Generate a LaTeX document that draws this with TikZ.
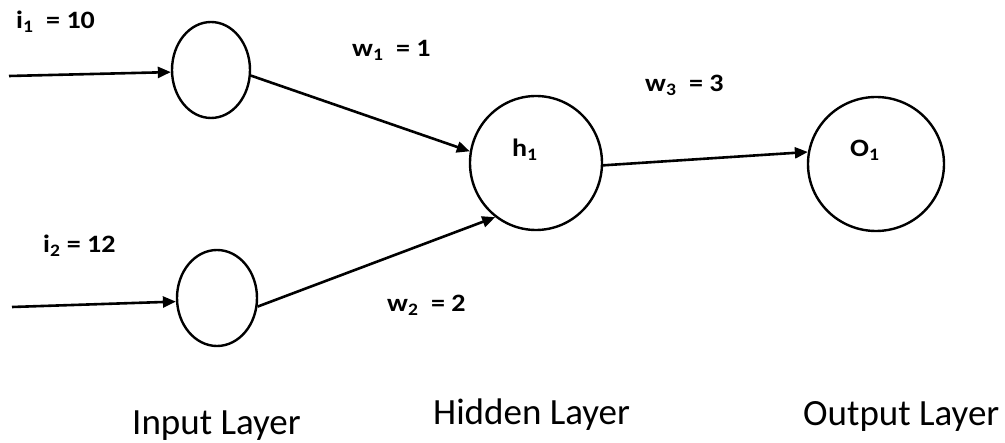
\documentclass[tikz,border=0pt]{standalone}
\usepackage{fontspec}
\usepackage{graphicx}
\setmainfont{Carlito}
\usetikzlibrary{shapes.geometric,arrows.meta}
\newcommand\wlbl[1]{\scalebox{1.12}[1]{#1}}
\begin{document}
\begin{tikzpicture}[x=1pt,y=-1pt,
  neuron/.style={draw,ellipse,line width=2.4pt,inner sep=0pt},
  conn/.style={line width=2.6pt,-{Triangle[length=13pt,width=11pt]}},
  lab/.style={anchor=base west,inner sep=0pt,font=\fontsize{25}{30}\selectfont\bfseries},
  layer/.style={anchor=base west,inner sep=0pt,font=\fontsize{37}{42}\selectfont}]
\useasboundingbox (0,0) rectangle (1005,443);
\node[neuron,minimum width=78pt,minimum height=96pt] (in1) at (211,70) {};
\node[neuron,minimum width=80pt,minimum height=96pt] (in2) at (217,298) {};
\node[neuron,minimum width=132pt,minimum height=134pt] (h1) at (536,163) {};
\node[neuron,minimum width=136pt,minimum height=134pt] (o1) at (876,164) {};
\coordinate (s1) at (9,76);
\coordinate (s2) at (12,307);
\draw[conn] (s1) -- (in1.183);
\draw[conn] (s2) -- (in2.185);
\draw[conn] (in1.-8) -- (h1.170);
\draw[conn] (in2.-12) -- (h1.233);
\draw[conn] (h1.-2) -- (o1.170);
\node[lab] (li1) at (16,29) {\wlbl{i\textsubscript{1}\ \ = 10}};
\node[lab] (lw1) at (352,57) {\wlbl{w\textsubscript{1}\ \ = 1}};
\node[lab] (lw3) at (645,92) {\wlbl{w\textsubscript{3}\ \ = 3}};
\node[lab] (lh1) at (512,157) {\wlbl{h\textsubscript{1}}};
\node[lab] (lo1) at (850,157) {\wlbl{O\textsubscript{1}}};
\node[lab] (li2) at (43,253) {\wlbl{i\textsubscript{2} = 12}};
\node[lab] (lw2) at (387,312) {\wlbl{w\textsubscript{2}\ \ = 2}};
\node[layer] (L1) at (132,435) {Input Layer};
\node[layer] (L2) at (433,425) {Hidden Layer};
\node[layer] (L3) at (803,426) {Output Layer};
\end{tikzpicture}
\end{document}
